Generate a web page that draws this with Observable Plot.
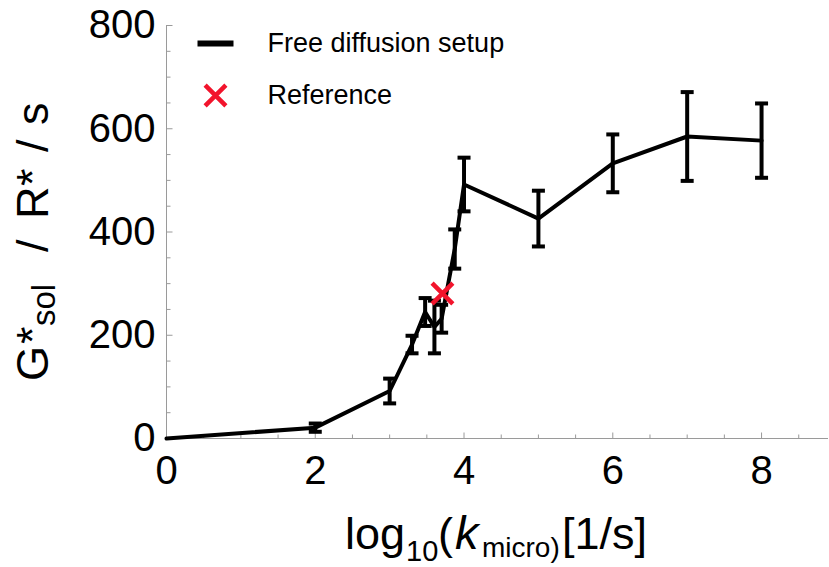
<!DOCTYPE html>
<html><head><meta charset="utf-8">
<script src="https://cdn.jsdelivr.net/npm/d3@7"></script>
<script src="https://cdn.jsdelivr.net/npm/@observablehq/plot@0.6"></script>
<style>body{margin:0;background:#fff}#chart{width:829px;height:567px}</style>
</head><body><div id="chart"></div>
<script>
// data
const logK = [0, 2, 3, 3.301, 3.477, 3.602, 3.699, 3.875, 4, 5, 6, 7, 8];
const gSol = [0, 21, 92, 182, 245, 216, 232, 367, 492, 426, 533, 585, 577];
const gErr = [0, 8, 24, 17, 27, 51, 27, 38, 52, 54, 56, 86, 72];
const refLogK = [3.71];
const refG = [281];
const xTicks = [0, 2, 4, 6, 8];
const xMinor = [0.5, 1, 1.5, 2.5, 3, 3.5, 4.5, 5, 5.5, 6.5, 7, 7.5, 8.5];
const yTicks = [0, 200, 400, 600, 800];
const yMinor = [50, 100, 150, 250, 300, 350, 450, 500, 550, 650, 700, 750];
const legendLabels = ["Free diffusion setup", "Reference"];

const RED = "#f2142c";
const AXIS = "#9a9a9a";
const FONT = "'Liberation Sans', Arial, Helvetica, sans-serif";

const pts = logK.map((x, i) => ({x, y: gSol[i], e: gErr[i]}));
const bars = pts.filter(d => d.e > 0);
const refPts = refLogK.map((x, i) => ({x, y: refG[i]}));

const tick = (dx, dy) => ({draw(ctx) { ctx.moveTo(0, 0); ctx.lineTo(dx, dy); }});
const hbar = (hw) => ({draw(ctx) { ctx.moveTo(-hw, 0); ctx.lineTo(hw, 0); }});

const plot = Plot.plot({
  width: 829, height: 567,
  marginLeft: 166, marginTop: 25, marginBottom: 129, marginRight: 1,
  x: {domain: [0, 8.9]},
  y: {domain: [0, 800]},
  style: {fontFamily: FONT, background: "white", color: "black"},
  marks: [
    Plot.ruleX([0], {stroke: AXIS, strokeWidth: 1}),
    Plot.ruleY([0], {stroke: AXIS, strokeWidth: 1}),
    Plot.dot(xMinor, {x: d => d, y: 0, symbol: tick(0, -4), stroke: AXIS, fill: "none", strokeWidth: 1}),
    Plot.dot(xTicks, {x: d => d, y: 0, symbol: tick(0, -6), stroke: AXIS, fill: "none", strokeWidth: 1}),
    Plot.dot(yMinor, {x: 0, y: d => d, symbol: tick(4, 0), stroke: AXIS, fill: "none", strokeWidth: 1}),
    Plot.dot(yTicks, {x: 0, y: d => d, symbol: tick(6, 0), stroke: AXIS, fill: "none", strokeWidth: 1}),
    Plot.axisX({ticks: xTicks, tickSize: 0, tickPadding: 17, fontSize: 40, label: null, tickFormat: d => String(d)}),
    Plot.axisY({ticks: yTicks, tickSize: 0, tickPadding: 11, fontSize: 40, label: null, tickFormat: d => String(d)}),
    Plot.line(pts, {x: "x", y: "y", stroke: "black", strokeWidth: 4}),
    Plot.ruleX(bars, {x: "x", y1: d => d.y - d.e, y2: d => d.y + d.e, stroke: "black", strokeWidth: 4}),
    Plot.dot(bars, {x: "x", y: d => d.y - d.e, symbol: hbar(6.5), stroke: "black", fill: "none", strokeWidth: 4}),
    Plot.dot(bars, {x: "x", y: d => d.y + d.e, symbol: hbar(6.5), stroke: "black", fill: "none", strokeWidth: 4}),
    Plot.dot(refPts, {x: "x", y: "y", symbol: "times", r: 9.5, stroke: RED, fill: "none", strokeWidth: 4.5}),
    // legend
    Plot.dot([legendLabels[0]], {frameAnchor: "top-left", dx: 49, dy: 18, symbol: hbar(18), stroke: "black", fill: "none", strokeWidth: 6}),
    Plot.dot([legendLabels[1]], {frameAnchor: "top-left", dx: 49, dy: 70, symbol: "times", r: 9.5, stroke: RED, fill: "none", strokeWidth: 4.5}),
    Plot.text([legendLabels[0]], {frameAnchor: "top-left", text: d => d, dx: 101, dy: 18, textAnchor: "start", lineAnchor: "middle", fontSize: 27, fill: "black"}),
    Plot.text([legendLabels[1]], {frameAnchor: "top-left", text: d => d, dx: 101, dy: 70, textAnchor: "start", lineAnchor: "middle", fontSize: 27, fill: "black"})
  ]
});

const svg = d3.select(plot);
// x-axis title
const xt = svg.append("text").attr("y", 549).attr("text-anchor", "start")
  .attr("font-size", 45).attr("font-family", FONT).attr("fill", "black");
xt.append("tspan").attr("x", 345).text("log");
xt.append("tspan").attr("x", 406).attr("dy", 12).attr("font-size", 29).text("10");
xt.append("tspan").attr("x", 438).attr("dy", -12).text("(");
xt.append("tspan").attr("x", 455).attr("font-style", "italic").attr("font-size", 47).text("k");
xt.append("tspan").attr("x", 482).attr("dy", 8).attr("font-size", 28).text("micro)");
xt.append("tspan").attr("x", 562).attr("dy", -8).text("[1/s]");

// y-axis title (rotated)
const yt = svg.append("text").attr("transform", "translate(48,380) rotate(-90)").attr("text-anchor", "start")
  .attr("font-size", 45).attr("font-family", FONT).attr("fill", "black");
yt.append("tspan").attr("x", -1).text("G");
yt.append("tspan").attr("x", 36).text("*");
yt.append("tspan").attr("x", 54).attr("dy", 7).attr("font-size", 33).text("sol");
yt.append("tspan").attr("x", 128).attr("dy", -7).text("/");
yt.append("tspan").attr("x", 161).text("R");
yt.append("tspan").attr("x", 194).text("*");
yt.append("tspan").attr("x", 228).text("/");
yt.append("tspan").attr("x", 255).text("s");

document.getElementById("chart").appendChild(plot);
</script>
</body></html>
